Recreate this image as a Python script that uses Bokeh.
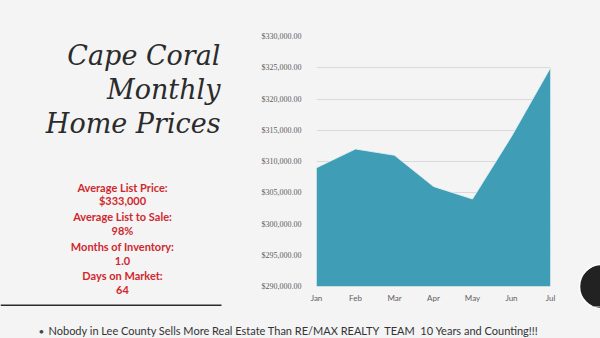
from bokeh.plotting import figure
from bokeh.layouts import row, column
from bokeh.models import (Range1d, SingleIntervalTicker, FixedTicker, NumeralTickFormatter, Label)
from bokeh.embed import file_html
from bokeh.resources import INLINE

months = ["Jan", "Feb", "Mar", "Apr", "May", "Jun", "Jul"]
prices = [309000, 312000, 311000, 306000, 304000, 314000, 325000]
y_min, y_max, y_step = 290000, 330000, 5000

title_lines = ["Cape Coral", "Monthly", "Home Prices"]
stats_lines = ["Average List Price:", "$333,000", "Average List to Sale:", "98%",
               "Months of Inventory:", "1.0", "Days on Market:", "64"]
footer = "Nobody in Lee County Sells More Real Estate Than RE/MAX REALTY\u00a0 TEAM\u00a0 10 Years and Counting!!!"

BG = "#f4f4f4"
W, H = 600, 338
TOP_H = 306


def blank(width, height, x0, x1, y0, y1):
    f = figure(width=width, height=height, output_backend="svg", toolbar_location=None,
               x_range=Range1d(x0, x1), y_range=Range1d(y1, y0),
               x_axis_location=None, y_axis_location=None, min_border=0,
               frame_align=False,
               background_fill_color=BG, border_fill_color=BG, outline_line_color=None)
    f.xgrid.grid_line_color = None
    f.ygrid.grid_line_color = None
    return f


# ---- left panel (canvas pixels, y downward)
left = blank(250, TOP_H, 0, 250, 0, TOP_H)
for i, t in enumerate(title_lines):
    left.add_layout(Label(x=220, y=55 + 34 * i, text=t, text_align="right",
                          text_baseline="alphabetic", text_font="DejaVu Serif",
                          text_font_style="italic", text_font_size="27px",
                          text_color="#2b2b2b"))
stats_y = [187, 200, 216, 230, 246, 260, 275, 289]
for t, yy in zip(stats_lines, stats_y):
    left.add_layout(Label(x=122, y=yy, text=t, text_align="center",
                          text_baseline="alphabetic", text_font="Lato",
                          text_font_style="bold", text_font_size="11px",
                          text_color="#d0282e"))
left.quad(left=[0], right=[221], top=[304], bottom=[306], fill_color="#2a2a2a", line_color=None)

# ---- chart
xs = list(range(len(months)))
chart = figure(width=320, height=TOP_H, output_backend="svg", toolbar_location=None,
               x_range=Range1d(0, len(months) - 1), y_range=Range1d(y_min, y_max),
               min_border_left=66, min_border_right=20, min_border_top=36, min_border_bottom=20,
               frame_align=False,
               background_fill_color=BG, border_fill_color=BG, outline_line_color=None)
chart.varea(x=xs, y1=[y_min] * len(xs), y2=prices, fill_color="#3f9db5")
chart.line(x=xs, y=prices, line_color="#e6f3f6", line_width=1, line_alpha=0.8)

chart.xgrid.grid_line_color = None
chart.ygrid.grid_line_color = "#dadada"
chart.ygrid.grid_line_width = 1
chart.ygrid.ticker = SingleIntervalTicker(interval=y_step)

chart.yaxis.ticker = SingleIntervalTicker(interval=y_step)
chart.yaxis.formatter = NumeralTickFormatter(format="$0,0.00")
chart.yaxis.axis_line_color = None
chart.yaxis.major_tick_line_color = None
chart.yaxis.minor_tick_line_color = None
chart.yaxis.major_tick_out = 0
chart.yaxis.major_label_standoff = 11
chart.yaxis.major_label_text_font = "Liberation Serif"
chart.yaxis.major_label_text_font_size = "8px"
chart.yaxis.major_label_text_color = "#606060"

chart.xaxis.ticker = FixedTicker(ticks=xs)
chart.xaxis.major_label_overrides = {i: m for i, m in enumerate(months)}
chart.xaxis.axis_line_color = None
chart.xaxis.major_tick_line_color = None
chart.xaxis.minor_tick_line_color = None
chart.xaxis.major_tick_out = 0
chart.xaxis.major_label_standoff = 6
chart.xaxis.major_label_text_font = "Lato"
chart.xaxis.major_label_text_font_size = "8px"
chart.xaxis.major_label_text_color = "#606060"

# ---- right strip with dark circle
right = blank(30, TOP_H, 570, 600, 0, TOP_H)
right.circle(x=[601], y=[286], radius=22, fill_color="#222222",
             line_color="#ffffff", line_width=1.5)

# ---- footer
bottom = blank(W, H - TOP_H, 0, W, TOP_H, H)
bottom.circle(x=[601], y=[286], radius=22, fill_color="#222222",
              line_color="#ffffff", line_width=1.5)
bottom.add_layout(Label(x=38, y=330, text="\u2022", text_align="left",
                        text_baseline="alphabetic", text_font="Lato",
                        text_font_size="10px", text_color="#444444"))
bottom.add_layout(Label(x=48, y=330, text=footer, text_align="left",
                        text_baseline="alphabetic", text_font="Lato",
                        text_font_size="11px", text_color="#333333"))

top_row = row(left, chart, right, styles={"background-color": BG})
layout = column(top_row, bottom, styles={"background-color": BG})
open("out.html", "w").write(file_html(layout, INLINE))
